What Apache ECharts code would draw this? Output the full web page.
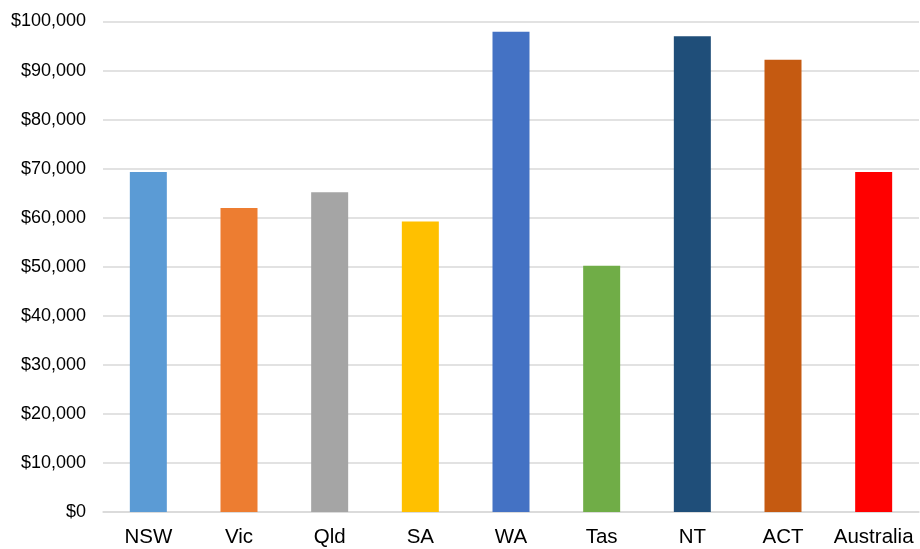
<!DOCTYPE html>
<html>
<head>
<meta charset="utf-8">
<script src="https://cdn.jsdelivr.net/npm/echarts@6/dist/echarts.min.js"></script>
<style>html,body{margin:0;padding:0;background:#fff;}#c{width:920px;height:549px;}</style>
</head>
<body>
<div id="c"></div>
<script>
const categories = ['NSW','Vic','Qld','SA','WA','Tas','NT','ACT','Australia'];
const values = [69300, 62000, 65200, 59200, 97900, 50200, 97000, 92200, 69300];
const barColors = ['#5B9BD5','#ED7D31','#A5A5A5','#FFC000','#4472C4','#70AD47','#1F4E79','#C55A11','#FF0000'];
const yMin = 0, yMax = 100000, yStep = 10000;

const chart = echarts.init(document.getElementById('c'), null, {renderer:'canvas'});
chart.setOption({
  animation: false,
  backgroundColor: '#fff',
  grid: {left: 103, right: 1, top: 21.5, bottom: 37, containLabel: false},
  xAxis: {
    type: 'category',
    data: categories,
    axisLine: {show: true, lineStyle: {color: '#d9d9d9', width: 1.5}},
    axisTick: {show: false},
    axisLabel: {interval: 0, hideOverlap: false, color: '#000', fontFamily: 'Liberation Sans, Arial, sans-serif', fontSize: 20.5, margin: 15}
  },
  yAxis: {
    type: 'value',
    min: yMin, max: yMax, interval: yStep,
    axisLine: {show: false},
    axisTick: {show: false},
    splitLine: {lineStyle: {color: '#d9d9d9', width: 1.5}},
    axisLabel: {
      color: '#000', fontFamily: 'Liberation Sans, Arial, sans-serif', fontSize: 18, margin: 17,
      formatter: v => '$' + v.toLocaleString('en-US')
    }
  },
  series: [{
    type: 'bar',
    barWidth: 37,
    data: values.map((v, i) => ({value: v, itemStyle: {color: barColors[i]}}))
  }]
});
</script>
</body>
</html>
